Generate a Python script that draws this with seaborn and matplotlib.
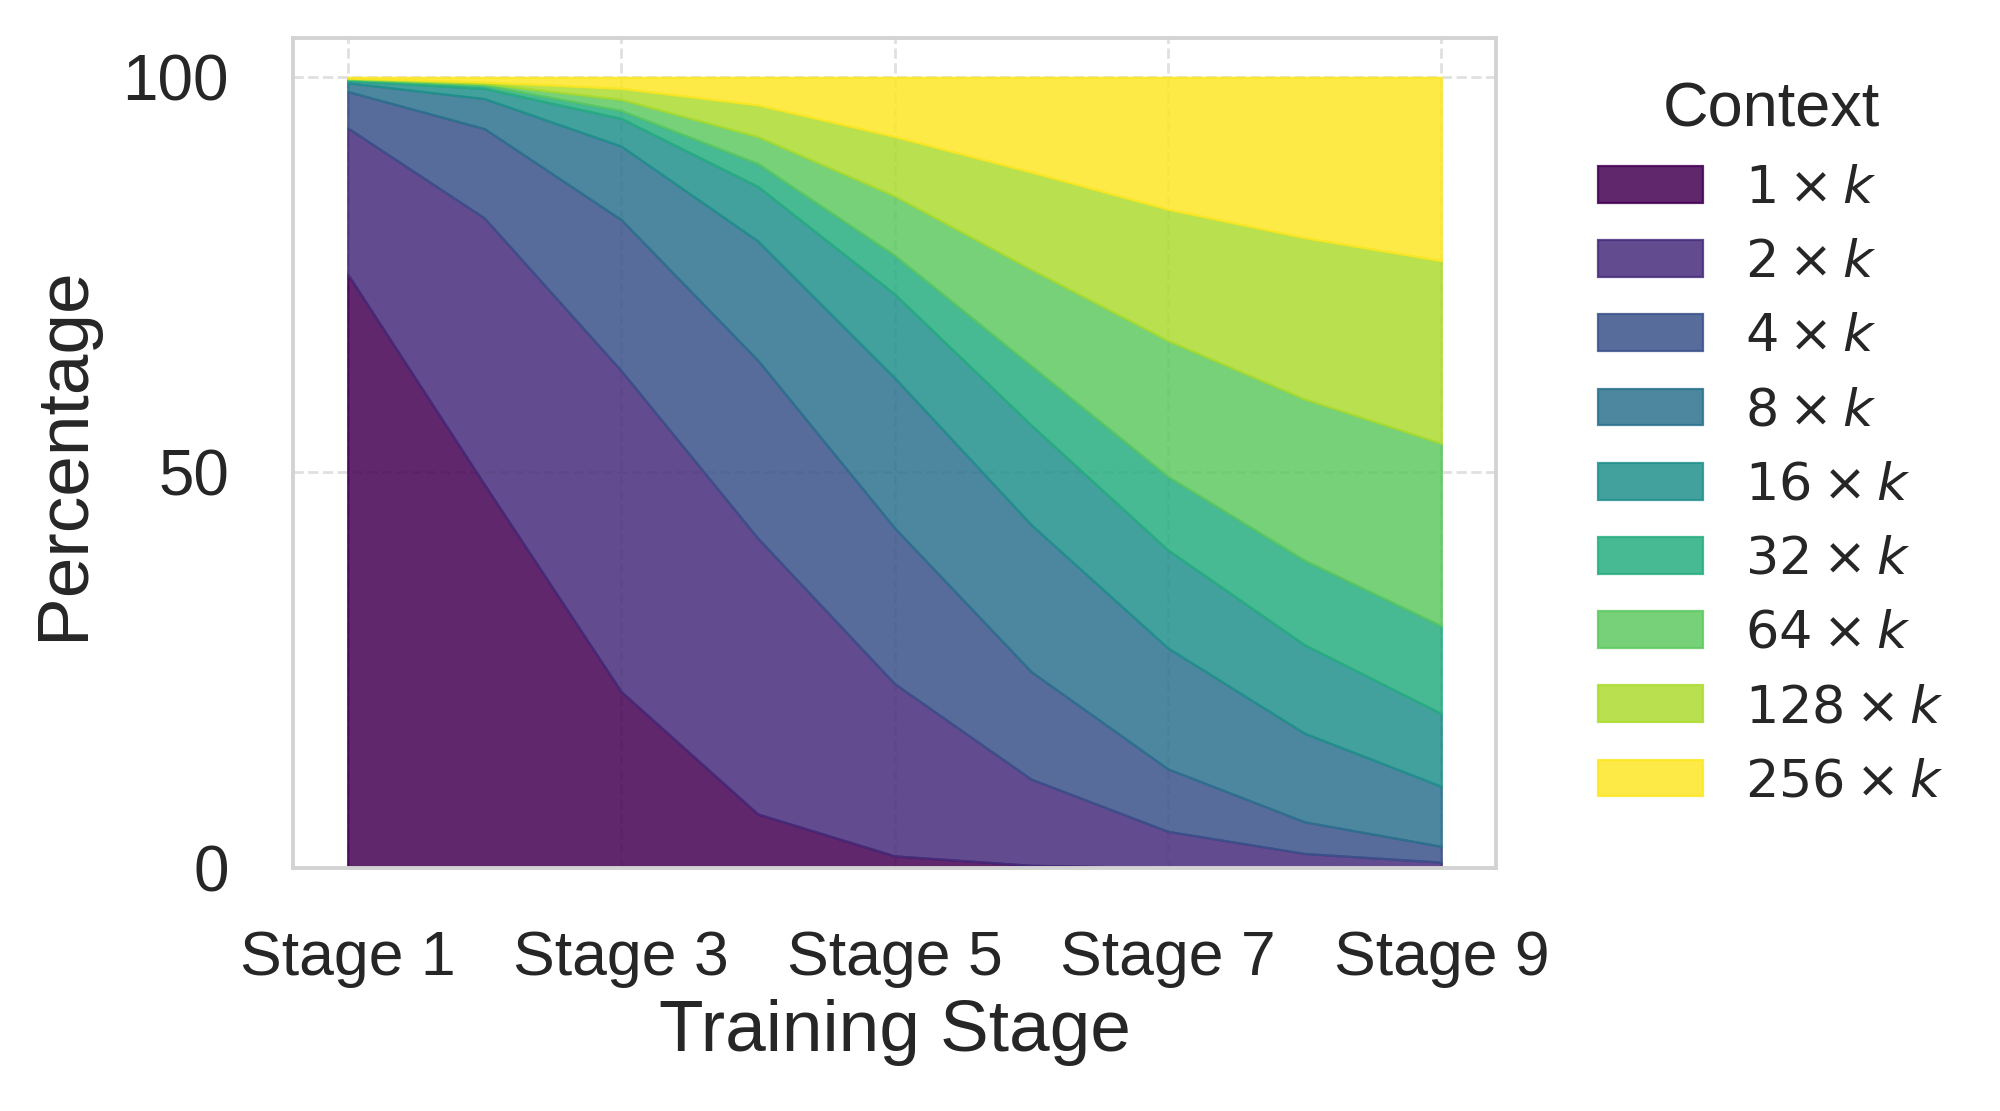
import numpy as np
import matplotlib
matplotlib.use("Agg")
import matplotlib.pyplot as plt
import seaborn as sns

# === DATA (percent share of each context length per training stage) ===
stages = [1, 2, 3, 4, 5, 6, 7, 8, 9]
tick_stages = [1, 3, 5, 7, 9]
tick_labels = ["Stage 1", "Stage 3", "Stage 5", "Stage 7", "Stage 9"]
context_labels = [r"$1 \times k$", r"$2 \times k$", r"$4 \times k$", r"$8 \times k$",
                  r"$16 \times k$", r"$32 \times k$", r"$64 \times k$",
                  r"$128 \times k$", r"$256 \times k$"]

pct_1k = [75.1, 48.5, 22.3, 6.8, 1.5, 0.3, 0.0, 0.0, 0.0]
pct_2k = [18.5, 33.7, 40.6, 34.9, 21.8, 10.9, 4.6, 1.8, 0.7]
pct_4k = [4.6, 11.3, 19.1, 22.5, 19.7, 13.6, 7.9, 4.0, 2.0]
pct_8k = [1.1, 3.8, 9.3, 15.1, 19.0, 18.6, 15.3, 11.2, 7.6]
pct_16k = [0.3, 1.3, 3.5, 6.9, 10.6, 12.6, 12.4, 11.2, 9.2]
pct_32k = [0.15, 0.4, 1.0, 2.9, 4.9, 7.5, 9.3, 10.7, 11.1]
pct_64k = [0.1, 0.2, 1.4, 3.4, 7.5, 12.2, 17.2, 20.4, 23.1]
pct_128k = [0.05, 0.2, 1.4, 4.0, 7.5, 12.3, 16.6, 20.4, 23.1]
pct_256k = [0.1, 0.6, 1.4, 3.5, 7.5, 12.0, 16.7, 20.3, 23.2]

layers = [pct_1k, pct_2k, pct_4k, pct_8k, pct_16k, pct_32k, pct_64k, pct_128k, pct_256k]

# === STYLE ===
sns.set_theme(style="whitegrid")
plt.rcParams["font.family"] = ["Liberation Sans", "DejaVu Sans"]

colors = sns.color_palette("viridis", as_cmap=True)(np.linspace(0, 1, len(layers)))

fig, ax = plt.subplots(figsize=(10, 5.555), dpi=200)
fig.subplots_adjust(left=0.1465, right=0.748, top=0.966, bottom=0.219)

ax.stackplot(stages, layers, labels=context_labels, colors=colors,
             alpha=0.85, edgecolor="face", linewidth=0.8)

ax.set_xlim(0.6, 9.4)
ax.set_ylim(0, 105)
ax.set_xticks(tick_stages)
ax.set_xticklabels(tick_labels)
ax.set_yticks([0, 50, 100])
ax.tick_params(axis="x", labelsize=22.5, pad=16, colors="#262626")
ax.tick_params(axis="y", labelsize=23, pad=17, colors="#262626")
ax.grid(True, linestyle="--", linewidth=1.0, alpha=0.6)
ax.set_axisbelow(True)
for sp in ax.spines.values():
    sp.set_color("#d3d3d3")
    sp.set_linewidth(1.4)

ax.set_xlabel("Training Stage", fontsize=26.3, color="#262626", labelpad=4)
ax.set_ylabel("Percentage", fontsize=26.3, color="#262626", labelpad=9)

leg = ax.legend(title="Context", loc="upper left", bbox_to_anchor=(0.7755, 0.970),
                bbox_transform=fig.transFigure, frameon=False, fontsize=18.9,
                title_fontsize=22.7, labelspacing=0.48, handlelength=2.0)
for t in leg.get_texts():
    t.set_color("#262626")
leg.get_title().set_color("#262626")

fig.savefig("out.png", dpi=200)
